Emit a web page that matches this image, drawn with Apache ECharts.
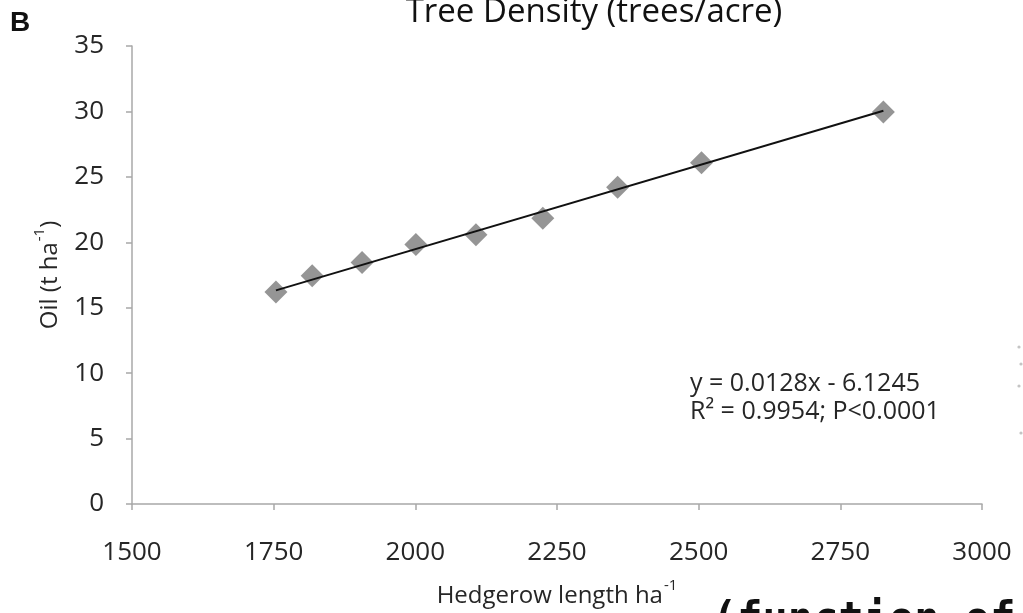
<!DOCTYPE html>
<html>
<head>
<meta charset="utf-8">
<script src="https://cdn.jsdelivr.net/npm/echarts@6/dist/echarts.min.js"></script>
<style>
  html, body { margin: 0; padding: 0; background: #fff; }
  #chart { width: 1023px; height: 613px; }
</style>
</head>
<body>
<div id="chart"></div>
<script>
// Hedgerow length per hectare vs oil yield
const hedgerowLength = [1754, 1818, 1906, 2001, 2107, 2225, 2357, 2505, 2826];
const oilYield = [16.2, 17.45, 18.45, 19.83, 20.58, 21.83, 24.2, 26.08, 29.96];

// Linear fit reported on the chart
const fitSlope = 0.0128;
const fitIntercept = -6.1245;
const fitText = 'y = 0.0128x - 6.1245';
const statText = 'R² = 0.9954; P<0.0001';

const xTicks = [1500, 1750, 2000, 2250, 2500, 2750, 3000];
const yTicks = [0, 5, 10, 15, 20, 25, 30, 35];

const font = '"Open Sans", "Noto Sans", sans-serif';
const axisGray = '#a8a8a8';
const textColor = '#262626';

const points = hedgerowLength.map((x, i) => [x, oilYield[i]]);
const xMinData = Math.min(...hedgerowLength);
const xMaxData = Math.max(...hedgerowLength);
const fitLine = [
  [xMinData, fitSlope * xMinData + fitIntercept],
  [xMaxData, fitSlope * xMaxData + fitIntercept]
];

const nameRich = {
  a: { fontFamily: font, fontSize: 24, color: textColor, verticalAlign: 'bottom', lineHeight: 30 },
  s: { fontFamily: font, fontSize: 15, color: textColor, verticalAlign: 'top', lineHeight: 30, padding: [0, 0, 12, 1] }
};

// faint specks along the right margin
const specks = [[1019, 347], [1021, 364], [1019, 386], [1021, 433]].map(([x, y]) => ({
  type: 'circle', shape: { cx: x, cy: y, r: 1.6 }, style: { fill: '#c4c4c4' }, silent: true
}));

const chart = echarts.init(document.getElementById('chart'), null, { renderer: 'canvas' });

chart.setOption({
  backgroundColor: '#ffffff',
  animation: false,
  grid: { left: 132, right: 41, top: 46, bottom: 100, containLabel: false },
  xAxis: {
    type: 'value',
    min: xTicks[0],
    max: xTicks[xTicks.length - 1],
    interval: 250,
    name: '{a|Hedgerow length ha}{s|-1}',
    nameLocation: 'middle',
    nameGap: 74,
    nameTextStyle: { rich: nameRich },
    axisLine: { show: true, lineStyle: { color: axisGray, width: 1.5 } },
    axisTick: { show: true, length: 6, lineStyle: { color: axisGray, width: 1.5 } },
    splitLine: { show: false },
    axisLabel: {
      color: textColor, fontFamily: font, fontSize: 26, margin: 36,
      formatter: (v) => String(v)
    }
  },
  yAxis: {
    type: 'value',
    min: yTicks[0],
    max: yTicks[yTicks.length - 1],
    interval: 5,
    name: '{a|Oil (t ha}{s|-1}{a|)}',
    nameLocation: 'middle',
    nameGap: 70,
    nameRotate: 90,
    nameTextStyle: { rich: nameRich },
    axisLine: { show: true, lineStyle: { color: axisGray, width: 1.5 } },
    axisTick: { show: true, length: 6, lineStyle: { color: axisGray, width: 1.5 } },
    splitLine: { show: false },
    axisLabel: {
      color: textColor, fontFamily: font, fontSize: 26, margin: 28,
      formatter: (v) => String(v)
    }
  },
  series: [
    {
      type: 'line',
      data: fitLine,
      symbol: 'none',
      lineStyle: { color: '#111', width: 2 },
      z: 3
    },
    {
      type: 'scatter',
      data: points,
      symbol: 'diamond',
      symbolSize: 23,
      itemStyle: { color: '#7a7a7a' },
      z: 2
    }
  ],
  graphic: [
    {
      type: 'text', left: 10, top: 9,
      style: { text: 'B', font: 'bold 28px "Liberation Sans", Arial, sans-serif', fill: '#111' }
    },
    {
      type: 'text', x: 594, y: -4,
      style: { text: 'Tree Density (trees/acre)', font: '33px ' + font, fill: '#111', align: 'center' }
    },
    {
      type: 'text', x: 690, y: 371,
      style: { text: fitText, font: '25px ' + font, fill: textColor }
    },
    {
      type: 'text', x: 690, y: 399,
      style: { text: statText, font: '25px ' + font, fill: textColor }
    },
    {
      type: 'text', x: 712, y: 600,
      style: { text: '(function of', font: 'bold 42px "DejaVu Sans Mono", monospace', fill: '#111' }
    },
    ...specks
  ]
});
</script>
</body>
</html>
